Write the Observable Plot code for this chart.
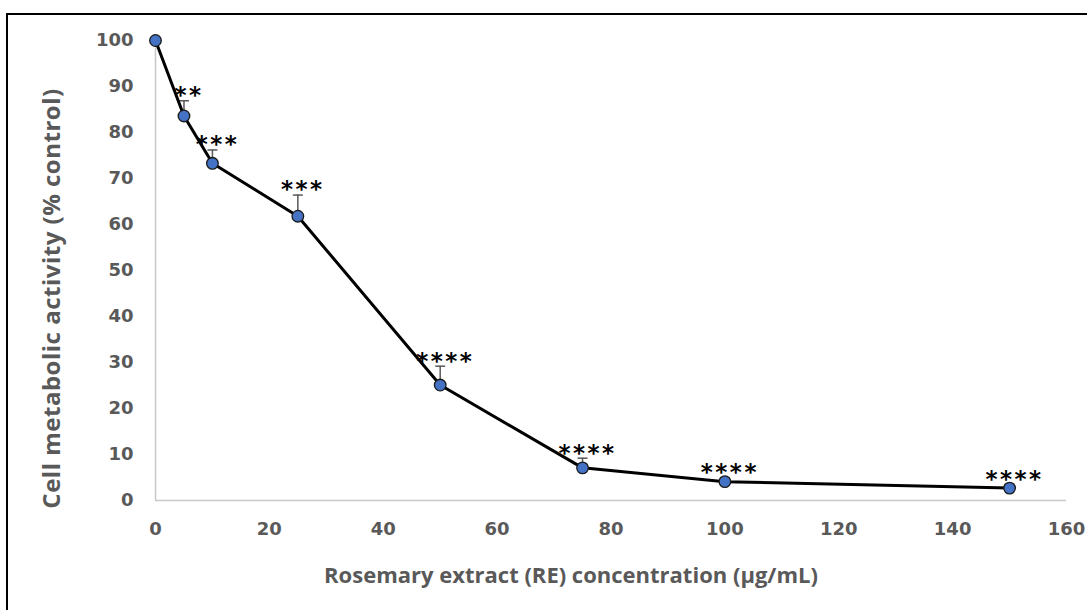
<!DOCTYPE html>
<html>
<head>
<meta charset="utf-8">
<script src="https://cdn.jsdelivr.net/npm/d3@7"></script>
<script src="https://cdn.jsdelivr.net/npm/@observablehq/plot@0.6"></script>
<style>
  html, body { margin: 0; padding: 0; background: #fff; overflow: hidden; }
  #wrap { position: relative; width: 1087px; height: 610px; }
  #border { position: absolute; left: 6px; top: 13px; width: 1200px; height: 700px; border: 2px solid #000; box-sizing: border-box; pointer-events: none; }
  #chart svg { display: block; }
</style>
</head>
<body>
<div id="wrap">
  <div id="chart"></div>
  <div id="border"></div>
</div>
<script>
// Data
const concentration = [0, 5, 10, 25, 50, 75, 100, 150];           // µg/mL
const activity      = [100, 83.6, 73.3, 61.8, 25.1, 7.1, 4.1, 2.7]; // % control
const errorUp       = [0, 3.3, 2.9, 4.6, 4.1, 2.1, 0.8, 0.8];       // upper error bar
const significance  = ["", "**", "***", "***", "****", "****", "****", "****"];
const xTicks = [0, 20, 40, 60, 80, 100, 120, 140, 160];
const yTicks = [0, 10, 20, 30, 40, 50, 60, 70, 80, 90, 100];
const xTitle = "Rosemary extract (RE) concentration (µg/mL)";
const yTitle = "Cell metabolic activity (% control)";

const data = concentration.map((c, i) => ({
  x: c, y: activity[i], e: errorUp[i], sig: significance[i]
}));
const withErr = data.filter(d => d.e > 0);

const capSymbol = {
  draw(ctx) { ctx.moveTo(-5, 0); ctx.lineTo(5, 0); }
};

const tickFont = {fontFamily: "DejaVu Sans", fontWeight: "bold", fontSize: 18};
const titleFont = "Open Sans";

const chart = Plot.plot({
  width: 1087,
  height: 610,
  marginLeft: 155,
  marginRight: 21,
  marginTop: 40,
  marginBottom: 110,
  style: {background: "transparent", color: "#595959", fontFamily: "DejaVu Sans"},
  x: {domain: [0, 160]},
  y: {domain: [0, 100]},
  marks: [
    Plot.ruleY([0], {stroke: "#c8c8c8", strokeWidth: 1.5}),
    Plot.ruleX([0], {stroke: "#c8c8c8", strokeWidth: 1.5}),
    Plot.axisX({ticks: xTicks, tickSize: 0, tickPadding: 22, label: null, fill: "#595959", ...tickFont, tickFormat: d => String(d)}),
    Plot.axisY({ticks: yTicks, tickSize: 0, tickPadding: 22, label: null, fill: "#595959", ...tickFont, tickFormat: d => String(d)}),
    Plot.ruleX(withErr, {x: "x", y1: "y", y2: d => d.y + d.e, stroke: "#595959", strokeWidth: 1.5}),
    Plot.dot(withErr, {x: "x", y: d => d.y + d.e, symbol: capSymbol, stroke: "#595959", strokeWidth: 1.5, fill: "none"}),
    Plot.line(data, {x: "x", y: "y", stroke: "#000", strokeWidth: 3}),
    Plot.dot(data, {x: "x", y: "y", r: 5.8, fill: "#4472C4", stroke: "#1a1a1a", strokeWidth: 1.3}),
    Plot.text(data.filter(d => d.sig), {
      x: "x", y: d => d.y + d.e,
      text: "sig",
      dx: 5, dy: -5,
      fill: "#000", fontFamily: "DejaVu Sans", fontWeight: "bold", fontSize: 23
    }),
    Plot.text([xTitle], {frameAnchor: "bottom", lineAnchor: "middle", dx: -40, dy: 75, fill: "#595959", fontFamily: titleFont, fontWeight: "bold", fontSize: 22}),
    Plot.text([yTitle], {frameAnchor: "left", textAnchor: "middle", lineAnchor: "middle", dx: -103, dy: 28, rotate: -90, fill: "#595959", fontFamily: titleFont, fontWeight: "bold", fontSize: 24})
  ]
});
// spacing between the significance asterisks and the y-title letters
chart.querySelectorAll("text").forEach(t => {
  const s = t.textContent;
  if (/^\*+$/.test(s)) t.style.letterSpacing = "2.5px";
  if (s === yTitle) t.style.letterSpacing = "0.5px";
});
document.getElementById("chart").appendChild(chart);
</script>
</body>
</html>
